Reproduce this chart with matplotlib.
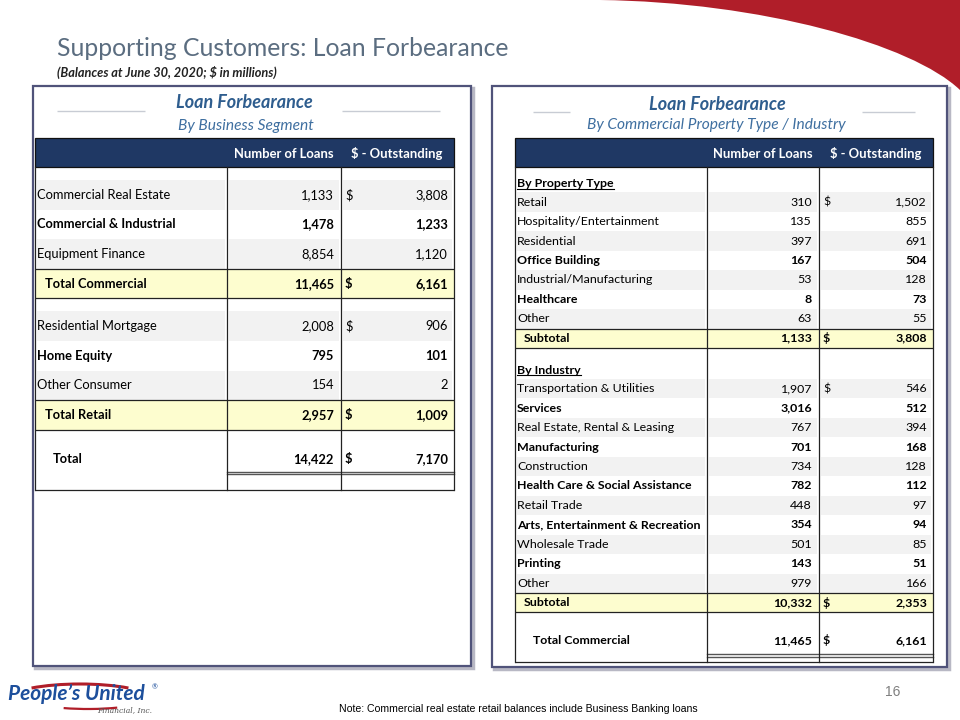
"""slide: loan forbearance tables"""
import matplotlib
matplotlib.use("Agg")
import matplotlib.pyplot as plt
from matplotlib.patches import Rectangle, PathPatch, Arc
from matplotlib.path import Path

# ---- data ----
seg_labels = ["Commercial Real Estate", "Commercial & Industrial", "Equipment Finance",
              "Total Commercial", "Residential Mortgage", "Home Equity", "Other Consumer",
              "Total Retail", "Total"]
seg_loans = [1133, 1478, 8854, 11465, 2008, 795, 154, 2957, 14422]
seg_balance = [3808, 1233, 1120, 6161, 906, 101, 2, 1009, 7170]
seg_kind = ["item", "item", "item", "total", "item", "item", "item", "total", "grand"]
seg_bold = [False, True, False, True, False, True, False, True, True]
seg_dollar = [True, False, False, True, True, False, False, True, True]

prop_labels = ["Retail", "Hospitality/Entertainment", "Residential", "Office Building",
               "Industrial/Manufacturing", "Healthcare", "Other"]
prop_loans = [310, 135, 397, 167, 53, 8, 63]
prop_balance = [1502, 855, 691, 504, 128, 73, 55]
prop_bold = [False, False, False, True, False, True, False]
prop_subtotal = (1133, 3808)

ind_labels = ["Transportation & Utilities", "Services", "Real Estate, Rental & Leasing",
              "Manufacturing", "Construction", "Health Care & Social Assistance",
              "Retail Trade", "Arts, Entertainment & Recreation", "Wholesale Trade",
              "Printing", "Other"]
ind_loans = [1907, 3016, 767, 701, 734, 782, 448, 354, 501, 143, 979]
ind_balance = [546, 512, 394, 168, 128, 112, 97, 94, 85, 51, 166]
ind_bold = [False, True, False, True, False, True, False, True, False, True, False]
ind_subtotal = (10332, 2353)
total_commercial = (11465, 6161)

# ---- styles ----
FONT = "Lato"
NAVY = "#1f3864"
GREY_BAND = "#f2f2f2"
YELLOW = "#fdfdcf"
TITLE_BLUE = "#2e5d8e"
SUB_BLUE = "#3f6fa0"
PANEL_EDGE = "#50537a"

fig = plt.figure(figsize=(9.6, 7.2), dpi=100)
ax = fig.add_axes([0, 0, 1, 1])
ax.set_xlim(0, 960)
ax.set_ylim(720, 0)
ax.axis("off")

# red swoosh top right
verts = [(600, 0), (760, 2), (912, 44), (960, 90), (960, 0), (600, 0)]
codes = [Path.MOVETO, Path.CURVE4, Path.CURVE4, Path.CURVE4, Path.LINETO, Path.CLOSEPOLY]
ax.add_patch(PathPatch(Path(verts, codes), facecolor="#b01e29", edgecolor="none"))

ax.text(57, 48, "Supporting Customers: Loan Forbearance", fontsize=17.8, color="#5b6d80",
        family=FONT, va="center", ha="left")
ax.text(57, 72, "(Balances at June 30, 2020; $ in millions)", fontsize=9.2, color="#222222",
        family=FONT, style="italic", weight="bold", va="center", ha="left")


def panel(x0, y0, x1, y1):
    ax.add_patch(Rectangle((x0 + 2, y0 + 2), x1 - x0, y1 - y0, facecolor="none",
                           edgecolor="#b8b8c4", lw=2.5))
    ax.add_patch(Rectangle((x0, y0), x1 - x0, y1 - y0, facecolor="white",
                           edgecolor=PANEL_EDGE, lw=1.6))


def fmt(v):
    return f"{v:,}"


def hline(x0, x1, y, lw=0.9, color="#222222"):
    ax.plot([x0, x1], [y, y], color=color, lw=lw, solid_capstyle="butt")


def underline(t):
    fig.canvas.draw()
    bb = t.get_window_extent(renderer=fig.canvas.get_renderer())
    inv = ax.transData.inverted()
    (xa, ya), (xb, yb) = inv.transform([(bb.x0, bb.y0), (bb.x1, bb.y1)])
    ax.plot([xa, xb], [ya - 0.5, ya - 0.5], color="black", lw=0.8)


def header(x0, x1, y0, y1, fs, loans_right, out_center):
    ax.add_patch(Rectangle((x0, y0), x1 - x0, y1 - y0, facecolor=NAVY, edgecolor="#111111", lw=0.9))
    ym = (y0 + y1) / 2 + 1
    ax.text(loans_right, ym, "Number of Loans", color="white", weight="bold", fontsize=fs,
            family=FONT, ha="right", va="center")
    ax.text(out_center, ym, "$ - Outstanding", color="white", weight="bold", fontsize=fs,
            family=FONT, ha="center", va="center")


def cell_bands(x0, c1, c2, x1, y0, y1, color):
    for a, b in [(x0, c1), (c1, c2), (c2, x1)]:
        ax.add_patch(Rectangle((a + 2, y0), b - a - 4, y1 - y0, facecolor=color, edgecolor="none"))


def row(c2, x1, y0, y1, label, loans, bal, bold, dollar, fs, lab_x, ty=None):
    ty = (y0 + y1) / 2 if ty is None else ty
    w = "bold" if bold else "normal"
    ax.text(lab_x, ty, label, fontsize=fs, family=FONT, weight=w, ha="left", va="center")
    ax.text(c2 - 7, ty, fmt(loans), fontsize=fs, family=FONT, weight=w, ha="right", va="center")
    ax.text(x1 - 6, ty, fmt(bal), fontsize=fs, family=FONT, weight=w, ha="right", va="center")
    if dollar:
        ax.text(c2 + 4, ty, "$", fontsize=fs, family=FONT, weight=w, ha="left", va="center")


# ---------------- left panel ----------------
panel(33, 86, 471, 666)
ax.text(244, 102, "Loan Forbearance", fontsize=13, color=TITLE_BLUE, family=FONT,
        weight="bold", style="italic", ha="center", va="center")
ax.text(246, 126, "By Business Segment", fontsize=11.2, color=SUB_BLUE, family=FONT,
        style="italic", ha="center", va="center")
hline(57, 145, 111, lw=1.0, color="#c8ccd4")
hline(342, 440, 111, lw=1.0, color="#c8ccd4")

L0, LC1, LC2, L1 = 35, 227, 341, 454
header(L0, L1, 138, 167, 9.4, 334, 397)
rh = 29.6
y = 180.0
fsL = 9.3
band = 0
for i, lab in enumerate(seg_labels):
    kind = seg_kind[i]
    if kind == "item":
        y0, y1 = y, y + rh
        if band % 2 == 0:
            cell_bands(L0, LC1, LC2, L1, y0, y1, GREY_BAND)
        band += 1
        row(LC2, L1, y0, y1, lab, seg_loans[i], seg_balance[i], seg_bold[i],
            seg_dollar[i], fsL, 37)
        y = y1
    elif kind == "total":
        y0, y1 = y, y + rh
        ax.add_patch(Rectangle((L0, y0), L1 - L0, y1 - y0, facecolor=YELLOW, edgecolor="none"))
        hline(L0, L1, y0)
        hline(L0, L1, y1)
        row(LC2, L1, y0, y1, lab, seg_loans[i], seg_balance[i], True, True, fsL, 45)
        y = y1 + 13
        band = 0
    else:
        y0 = y - 13
        y1 = y0 + 42
        row(LC2, L1, y0, y1, lab, seg_loans[i], seg_balance[i], True, True, fsL, 53,
            ty=y1 - 13)
        ax.plot([LC1, L1], [y1, y1], color="#555555", lw=1.0)
        ax.plot([LC1, L1], [y1 + 2.5, y1 + 2.5], color="#555555", lw=1.0)
        y = y1
Lbottom = 490
for xx in (L0, LC1, LC2, L1):
    ax.plot([xx, xx], [167, Lbottom], color="#222222", lw=0.9)
hline(L0, L1, Lbottom)

# ---------------- right panel ----------------
panel(492, 86, 947, 667)
ax.text(717, 104, "Loan Forbearance", fontsize=13, color=TITLE_BLUE, family=FONT,
        weight="bold", style="italic", ha="center", va="center")
ax.text(716, 125, "By Commercial Property Type / Industry", fontsize=11.2, color=SUB_BLUE,
        family=FONT, style="italic", ha="center", va="center")
hline(533, 570, 112, lw=1.0, color="#c8ccd4")
hline(862, 915, 112, lw=1.0, color="#c8ccd4")

R0, RC1, RC2, R1 = 515, 707, 819, 933
header(R0, R1, 138, 167, 9.4, 813, 876)
rr = 19.45
fsR = 8.9


def section(title, ystart, labels, loans, bals, bolds, sub):
    t = ax.text(517, ystart + rr / 2 + 1, title, fontsize=fsR, family=FONT, weight="bold",
                ha="left", va="center")
    underline(t)
    y = ystart + rr
    for i, lab in enumerate(labels):
        if i % 2 == 0:
            cell_bands(R0, RC1, RC2, R1, y, y + rr, GREY_BAND)
        row(RC2, R1, y, y + rr, lab, loans[i], bals[i], bolds[i], i == 0, fsR, 517)
        y += rr
    ax.add_patch(Rectangle((R0, y), R1 - R0, rr, facecolor=YELLOW, edgecolor="none"))
    hline(R0, R1, y)
    hline(R0, R1, y + rr)
    row(RC2, R1, y, y + rr, "Subtotal", sub[0], sub[1], True, True, fsR, 524)
    return y + rr


ya = section("By Property Type", 173, prop_labels, prop_loans, prop_balance, prop_bold,
             prop_subtotal)
yb = section("By Industry", ya + 11.5, ind_labels, ind_loans, ind_balance, ind_bold,
             ind_subtotal)
ytot = yb + 42
row(RC2, R1, yb, ytot, "Total Commercial", total_commercial[0], total_commercial[1],
    True, True, fsR, 533, ty=ytot - 14)
ax.plot([RC1, R1], [ytot, ytot], color="#555555", lw=1.0)
ax.plot([RC1, R1], [ytot + 2.5, ytot + 2.5], color="#555555", lw=1.0)
Rbottom = 662
for xx in (R0, RC1, RC2, R1):
    ax.plot([xx, xx], [167, Rbottom], color="#222222", lw=0.9)
hline(R0, R1, Rbottom)

# ---------------- footer ----------------
ax.add_patch(Arc((80, 701), 150, 34, theta1=195, theta2=345, color="#b01e29", lw=2.2))
ax.add_patch(Arc((88, 694), 140, 30, theta1=25, theta2=150, color="#b01e29", lw=1.6))
ax.text(8, 694, "People\u2019s United", fontsize=15, color="#1d4f9c", family=FONT,
        weight="bold", style="italic", ha="left", va="center")
ax.text(152, 687, "\u00ae", fontsize=5, color="#1d4f9c", family=FONT, ha="left", va="center")
ax.text(152, 710, "Financial, Inc.", fontsize=5.5, color="#555555", family="DejaVu Serif",
        style="italic", ha="right", va="center")
ax.text(518, 709, "Note: Commercial real estate retail balances include Business Banking loans",
        fontsize=7.6, family="Liberation Sans", ha="center", va="center", color="black")
ax.text(893, 692, "16", fontsize=10, color="#7f7f7f", family="Liberation Sans",
        ha="center", va="center")

fig.savefig("out.png", dpi=100)
